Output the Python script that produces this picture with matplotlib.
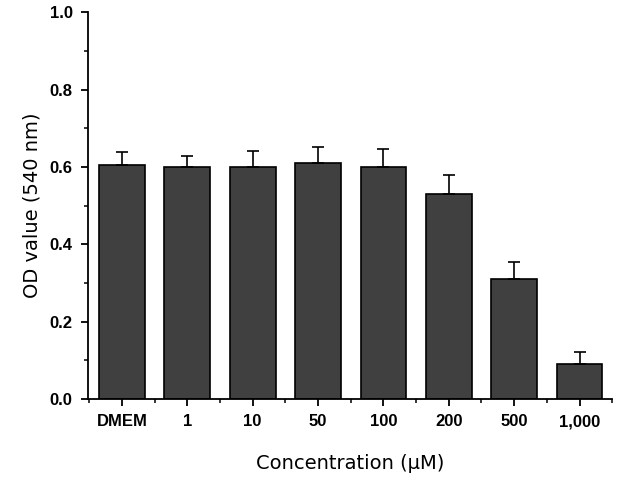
import matplotlib
matplotlib.use("Agg")
import matplotlib.pyplot as plt
from matplotlib.ticker import MultipleLocator, FixedLocator

# datos
categorias = ["DMEM", "1", "10", "50", "100", "200", "500", "1,000"]
valores = [0.605, 0.600, 0.600, 0.611, 0.600, 0.530, 0.310, 0.090]
errores = [0.034, 0.028, 0.042, 0.040, 0.045, 0.050, 0.044, 0.031]

fig = plt.figure(figsize=(6.19, 4.86), dpi=100)
ax = fig.add_axes([0.142, 0.179, 0.847, 0.796])

x = range(len(categorias))
# sólo la barra de error hacia arriba
ax.bar(x, valores, width=0.7, color="#404040", edgecolor="black", linewidth=1.2,
       yerr=[[0] * len(errores), errores],
       error_kw=dict(ecolor="black", elinewidth=1.2, capsize=4, capthick=1.2))

ax.set_xlim(-0.52, 7.5)
ax.set_ylim(0, 1.0)
ax.set_xticks(list(x))
ax.set_xticklabels(categorias, fontsize=12, fontweight="bold", family="Liberation Sans")
ax.xaxis.set_minor_locator(FixedLocator([i + 0.5 for i in range(-1, 8)]))
ax.yaxis.set_minor_locator(MultipleLocator(0.1))
ax.set_yticks([0.0, 0.2, 0.4, 0.6, 0.8, 1.0])
ax.set_yticklabels(["0.0", "0.2", "0.4", "0.6", "0.8", "1.0"], fontsize=12,
                   fontweight="bold", family="Liberation Sans")

for s in ["top", "right"]:
    ax.spines[s].set_visible(False)
for s in ["left", "bottom"]:
    ax.spines[s].set_linewidth(1.3)
ax.tick_params(which="major", direction="out", length=5, width=1.3, pad=6)
ax.tick_params(which="minor", direction="out", length=3, width=1.1)

ax.set_xlabel("Concentration (μM)", fontsize=14, labelpad=18)
ax.set_ylabel("OD value (540 nm)", fontsize=14, labelpad=6)

fig.savefig("out.png", dpi=100)
